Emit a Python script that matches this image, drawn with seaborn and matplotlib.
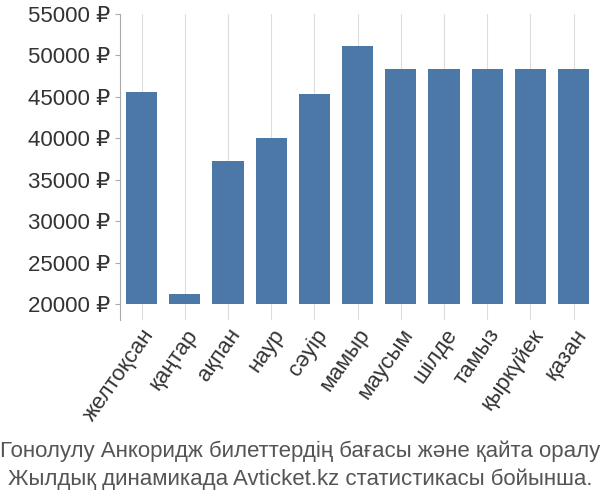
import matplotlib
matplotlib.use("Agg")
import matplotlib.pyplot as plt
import seaborn as sns
import pandas as pd

months = ["желтоқсан", "қаңтар", "ақпан", "наур", "сәуір", "мамыр",
          "маусым", "шілде", "тамыз", "қыркүйек", "қазан"]
prices = [45600, 21200, 37300, 40100, 45300, 51100,
          48400, 48400, 48400, 48400, 48400]
yticks = [20000, 25000, 30000, 35000, 40000, 45000, 50000, 55000]
base = 20000

plt.rcParams["font.family"] = ["Liberation Sans", "DejaVu Sans"]
df = pd.DataFrame({"month": months, "price": prices})
df["height"] = df["price"] - base  # bars start at the 20000 baseline

fig = plt.figure(figsize=(6, 5), dpi=100)
ax = fig.add_axes([0.2, 0.36, 0.792, 0.612])
sns.barplot(data=df, x="month", y="height", color="#4c78a8", saturation=1,
            width=0.72, bottom=base, ax=ax, zorder=2)
ax.set_ylim(18100, 55000)
ax.set_yticks(yticks)
ax.set_yticklabels([f"{v} ₽" for v in yticks], fontsize=16, color="#333333")
ax.tick_params(axis="x", labelrotation=55, labelsize=16, colors="#333333")
for lab in ax.get_xticklabels():
    lab.set_ha("right")
    lab.set_rotation_mode("anchor")
ax.set_xlabel("")
ax.set_ylabel("")
ax.grid(axis="x", color="#dddddd", zorder=0)
for s in ["top", "right", "bottom"]:
    ax.spines[s].set_visible(False)
ax.spines["left"].set_color("#aaaaaa")
ax.tick_params(axis="y", color="#aaaaaa")
ax.tick_params(axis="x", length=0)

fig.text(0.5, 0.085, "Гонолулу Анкоридж билеттердің бағасы және қайта оралу",
         ha="center", fontsize=16, color="#555555")
fig.text(0.5, 0.03, "Жылдық динамикада Avticket.kz статистикасы бойынша.",
         ha="center", fontsize=16, color="#555555")
fig.savefig("out.png")
